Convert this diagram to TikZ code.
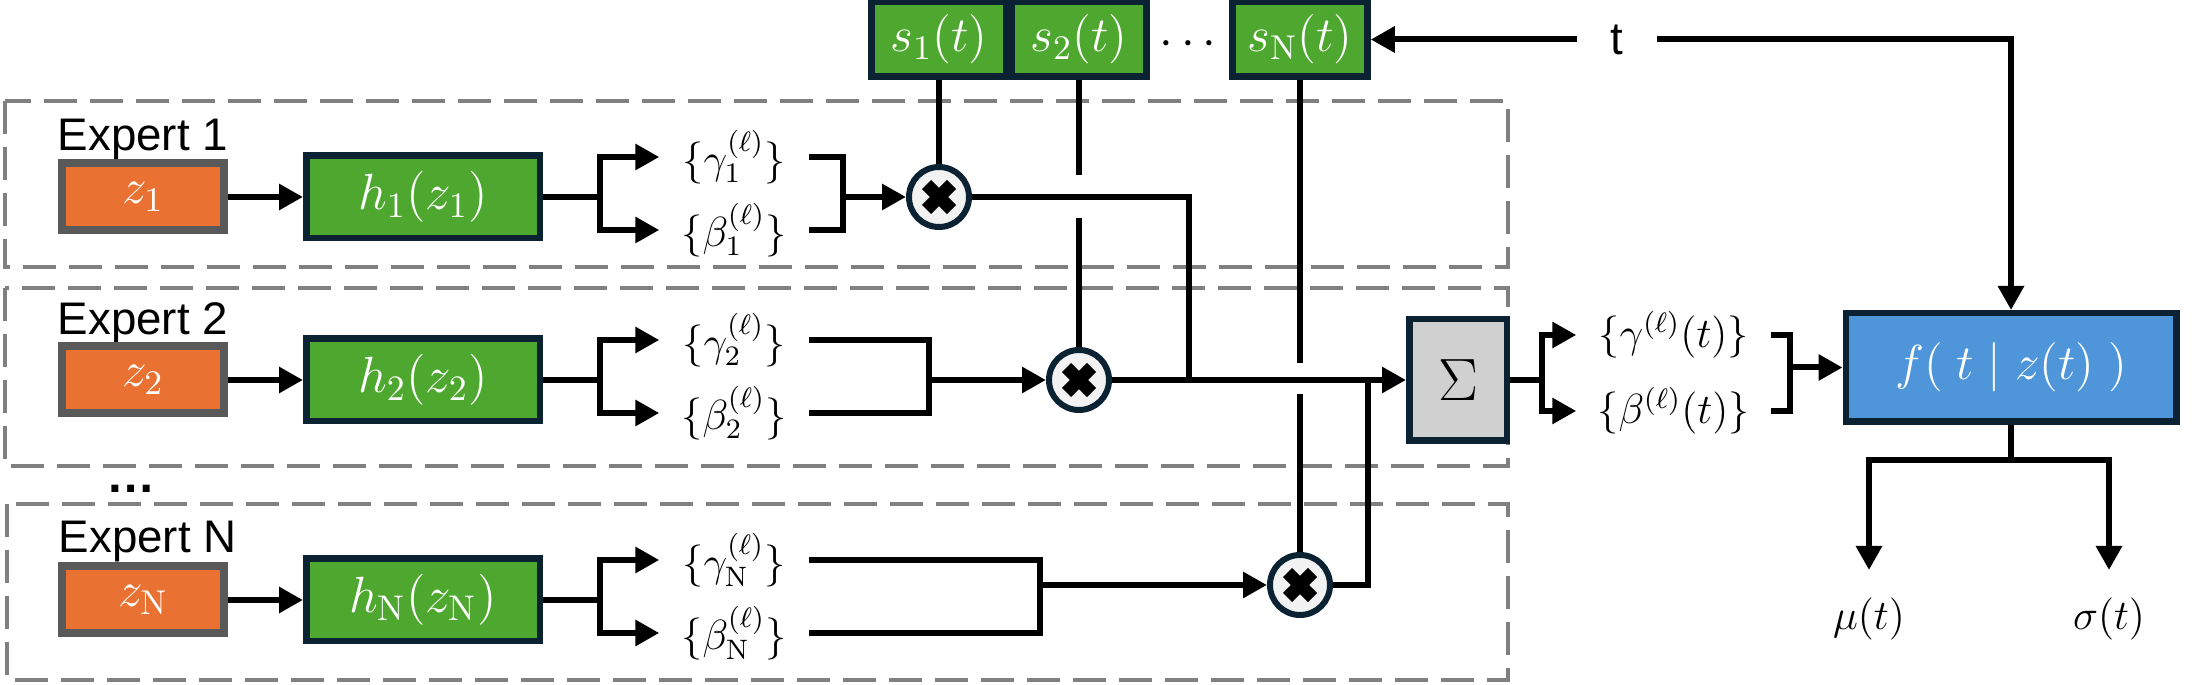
\RequirePackage{fix-cm}
\documentclass[tikz,border=0pt]{standalone}
\usepackage{fontspec}
\newfontfamily\lsans{Liberation Sans}
\usetikzlibrary{arrows.meta}

\definecolor{zorange}{HTML}{E97132}
\definecolor{zgray}{HTML}{595959}
\definecolor{ggreen}{HTML}{4EA72E}
\definecolor{navy}{HTML}{0A2232}
\definecolor{sumgray}{HTML}{D0D0D0}
\definecolor{fblue}{HTML}{4E95D9}
\definecolor{dgray}{HTML}{808080}
\definecolor{xfill}{HTML}{F2F2F2}

\tikzset{
  zbox/.style={draw=zgray, line width=0.08cm, fill=zorange, text=white, inner sep=0pt,
    minimum width=1.62cm, minimum height=0.67cm, font=\fontsize{14}{16}\selectfont},
  gbox/.style={draw=navy, line width=0.065cm, fill=ggreen, text=white, inner sep=0pt,
    font=\fontsize{14}{16}\selectfont},
  hbox/.style={gbox, minimum width=2.335cm, minimum height=0.825cm, font=\fontsize{14.5}{16}\selectfont},
  sbox/.style={gbox, minimum width=1.35cm, minimum height=0.745cm},
  sumbox/.style={draw=navy, line width=0.065cm, fill=sumgray, inner sep=0pt,
    minimum width=0.975cm, minimum height=1.215cm, font=\fontsize{17}{19}\selectfont},
  fbox/.style={draw=navy, line width=0.065cm, fill=fblue, text=white, inner sep=0pt,
    minimum width=3.305cm, minimum height=1.085cm, font=\fontsize{14}{16}\selectfont},
  mul/.style={circle, draw=navy, line width=0.06cm, fill=xfill, minimum size=0.60cm, inner sep=0pt,
    path picture={
      \draw[line width=0.13cm, black] ([shift={(-0.125,-0.125)}]path picture bounding box.center)
        -- ([shift={(0.125,0.125)}]path picture bounding box.center);
      \draw[line width=0.13cm, black] ([shift={(-0.125,0.125)}]path picture bounding box.center)
        -- ([shift={(0.125,-0.125)}]path picture bounding box.center);
    }},
  coef/.style={minimum width=1.48cm, inner sep=0pt, font=\fontsize{12}{14}\selectfont},
  mixcoef/.style={minimum width=1.93cm, inner sep=0pt, font=\fontsize{12}{14}\selectfont},
  outlbl/.style={anchor=north, inner xsep=0pt, inner ysep=0.27cm, font=\fontsize{12}{14}\selectfont},
  exptag/.style={anchor=base west, inner sep=0pt, font=\lsans\fontsize{13}{15}\selectfont},
  expbox/.style={draw=dgray, line width=0.04cm, dash pattern=on 0.33cm off 0.13cm},
  wire/.style={line width=0.06cm}
}

\begin{document}
\begin{tikzpicture}[>={Triangle[length=0.24cm,width=0.25cm]}]
  \useasboundingbox (0,0) rectangle (22.08,-6.85);

  \draw[expbox] (0.05,-1.01) rectangle (15.08,-2.67);
  \draw[expbox] (0.05,-2.88) rectangle (15.08,-4.66);
  \draw[expbox] (0.07,-5.04) rectangle (15.08,-6.80);

  \node[exptag] (e1) at (0.57,-1.51) {Expert 1};
  \node[exptag] (e2) at (0.57,-3.35) {Expert 2};
  \node[exptag] (eN) at (0.58,-5.53) {Expert N};
  \node[anchor=base, inner sep=0pt, font=\lsans\bfseries\fontsize{14}{16}\selectfont] (more) at (1.31,-4.93) {…};

  \node[sbox] (s1) at (9.39,-0.395) {$s_1(t)$};
  \node[sbox] (s2) at (10.79,-0.395) {$s_2(t)$};
  \node[font=\fontsize{14}{16}\selectfont] (sdots) at (11.88,-0.45) {$\cdots$};
  \node[sbox] (sN) at (13.00,-0.395) {$s_{\mathrm{N}}(t)$};
  \node[inner xsep=0.33cm, font=\lsans\fontsize{13}{15}\selectfont] (t) at (16.17,-0.395) {t};

  \node[zbox] (z1) at (1.43,-1.97) {$z_1$};
  \node[hbox] (h1) at (4.23,-1.97) {$h_1(z_1)$};
  \node[coef] (g1) at (7.34,-1.57) {$\{\gamma_1^{(\ell)}\}$};
  \node[coef] (b1) at (7.34,-2.30) {$\{\beta_1^{(\ell)}\}$};
  \node[mul] (m1) at (9.39,-1.97) {};
  \coordinate (k1) at (6.00,-1.97);
  \coordinate (j1) at (8.43,-1.97);
  \draw[wire,->] (z1) -- (h1);
  \draw[wire] (h1) -- (k1);
  \draw[wire,->] (k1) |- (g1.west);
  \draw[wire,->] (k1) |- (b1.west);
  \draw[wire] (g1.east) -| (j1) |- (b1.east);
  \draw[wire,->] (j1) -- (m1);

  \node[zbox] (z2) at (1.43,-3.80) {$z_2$};
  \node[hbox] (h2) at (4.23,-3.80) {$h_2(z_2)$};
  \node[coef] (g2) at (7.34,-3.40) {$\{\gamma_2^{(\ell)}\}$};
  \node[coef] (b2) at (7.34,-4.13) {$\{\beta_2^{(\ell)}\}$};
  \node[mul] (m2) at (10.79,-3.80) {};
  \coordinate (k2) at (6.00,-3.80);
  \coordinate (j2) at (9.29,-3.80);
  \draw[wire,->] (z2) -- (h2);
  \draw[wire] (h2) -- (k2);
  \draw[wire,->] (k2) |- (g2.west);
  \draw[wire,->] (k2) |- (b2.west);
  \draw[wire] (g2.east) -| (j2) |- (b2.east);
  \draw[wire,->] (j2) -- (m2);

  \node[zbox] (zN) at (1.43,-6.00) {$z_{\mathrm{N}}$};
  \node[hbox] (hN) at (4.23,-6.00) {$h_{\mathrm{N}}(z_{\mathrm{N}})$};
  \node[coef] (gN) at (7.34,-5.60) {$\{\gamma_{\mathrm{N}}^{(\ell)}\}$};
  \node[coef] (bN) at (7.34,-6.33) {$\{\beta_{\mathrm{N}}^{(\ell)}\}$};
  \node[mul] (mN) at (13.00,-5.85) {};
  \coordinate (kN) at (6.00,-6.00);
  \coordinate (jN) at (10.40,-5.85);
  \draw[wire,->] (zN) -- (hN);
  \draw[wire] (hN) -- (kN);
  \draw[wire,->] (kN) |- (gN.west);
  \draw[wire,->] (kN) |- (bN.west);
  \draw[wire] (gN.east) -| (jN) |- (bN.east);
  \draw[wire,->] (jN) -- (mN);

  \node[sumbox] (sig) at (14.58,-3.80) {$\Sigma$};
  \coordinate (u1) at (11.89,-3.80);
  \coordinate (uN) at (13.68,-3.80);
  \draw[wire] (m1) -| (u1);
  \draw[wire,->] (m2) -- (sig);
  \draw[wire] (mN) -| (uN);

  \coordinate (c2a) at (10.79,-1.75);
  \coordinate (c2b) at (10.79,-2.18);
  \coordinate (cNa) at (13.00,-3.63);
  \coordinate (cNb) at (13.00,-3.94);
  \draw[wire] (s1) -- (m1);
  \draw[wire] (s2) -- (c2a);
  \draw[wire] (c2b) -- (m2);
  \draw[wire] (sN) -- (cNa);
  \draw[wire] (cNb) -- (mN);

  \node[fbox] (f) at (20.11,-3.675) {$f(\;t\;|\;z(t)\;)$};
  \draw[wire,->] (t) -- (sN);
  \draw[wire,->] (t) -| (f);

  \node[mixcoef] (gS) at (16.735,-3.35) {$\{\gamma^{(\ell)}(t)\}$};
  \node[mixcoef] (bS) at (16.735,-4.11) {$\{\beta^{(\ell)}(t)\}$};
  \coordinate (kS) at (15.42,-3.80);
  \coordinate (jS) at (17.90,-3.675);
  \draw[wire] (sig) -- (kS);
  \draw[wire,->] (kS) |- (gS.west);
  \draw[wire,->] (kS) |- (bS.west);
  \draw[wire] (gS.east) -| (jS) |- (bS.east);
  \draw[wire,->] (jS) -- (f);

  \node[outlbl] (mu) at (18.69,-5.70) {$\mu(t)$};
  \node[outlbl] (sg) at (21.09,-5.70) {$\sigma(t)$};
  \coordinate (fo) at (20.11,-4.60);
  \draw[wire] (f) -- (fo);
  \draw[wire,->] (fo) -| (mu);
  \draw[wire,->] (fo) -| (sg);
\end{tikzpicture}
\end{document}
